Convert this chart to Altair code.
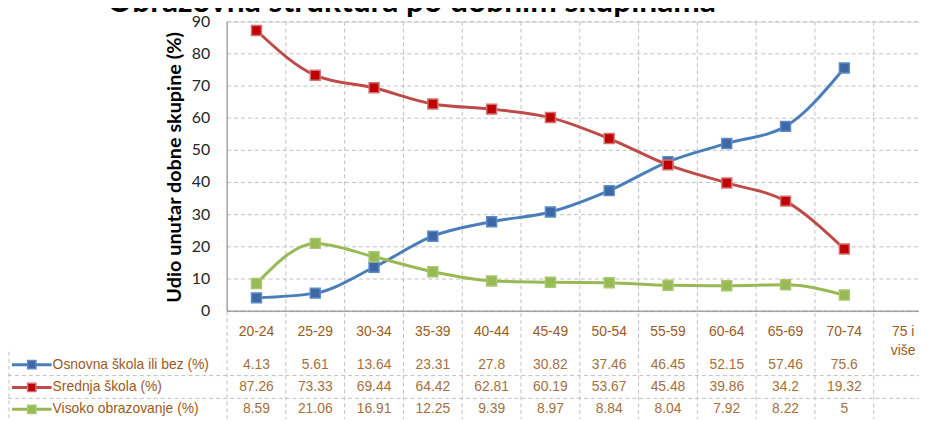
import altair as alt
import pandas as pd

title_text = "Obrazovna struktura po dobnim skupinama"
y_title = "Udio unutar dobne skupine (%)"
categories = ["20-24", "25-29", "30-34", "35-39", "40-44", "45-49", "50-54",
              "55-59", "60-64", "65-69", "70-74", "75 i više"]
series_names = ["Osnovna škola ili bez (%)", "Srednja škola (%)", "Visoko obrazovanje (%)"]
osnovna = [4.13, 5.61, 13.64, 23.31, 27.8, 30.82, 37.46, 46.45, 52.15, 57.46, 75.6, None]
srednja = [87.26, 73.33, 69.44, 64.42, 62.81, 60.19, 53.67, 45.48, 39.86, 34.2, 19.32, None]
visoko = [8.59, 21.06, 16.91, 12.25, 9.39, 8.97, 8.84, 8.04, 7.92, 8.22, 5, None]
y_ticks = [0, 10, 20, 30, 40, 50, 60, 70, 80, 90]

line_colors = ["#4A7EBB", "#BE4B48", "#98B954"]
marker_fill = ["#3C68A6", "#C00000", "#98B954"]
marker_stroke = ["#5B8BC6", "#D27070", "#A9C76E"]

rows = []
for s, vals in zip(series_names, [osnovna, srednja, visoko]):
    for i, (c, v) in enumerate(zip(categories, vals)):
        if v is None:
            continue
        rows.append({"idx": i, "cat": c, "series": s, "value": v, "label": f"{v:g}"})
df = pd.DataFrame(rows)

cat_df = pd.DataFrame({
    "idx": list(range(len(categories))),
    "label": [c if len(c) <= 5 else c.rsplit(" ", 1)[0] + "\n" + c.rsplit(" ", 1)[1]
              for c in categories],
})
bounds_df = pd.DataFrame({"b": [i + 0.5 for i in range(len(categories))]})
ytick_df = pd.DataFrame({"t": [float(t) for t in y_ticks], "tl": [str(t) for t in y_ticks]})
one = pd.DataFrame({"k": [0]})

W, H = 698, 292
xscale = alt.Scale(domain=[-0.5, 11.27], nice=False, zero=False)
yscale = alt.Scale(domain=[0, 90], nice=False, zero=True)
brown = "#9C5A22"
valcol = "#A4703E"
grid = "#BFBFBF"

hgrid = alt.Chart(ytick_df).mark_rule(color=grid, strokeDash=[4, 3], strokeWidth=1).encode(
    y=alt.Y("t:Q", scale=yscale, axis=None), x=alt.value(0), x2=alt.value(W))
ylabels = alt.Chart(ytick_df).mark_text(font="Lato", fontSize=16, color="#262626",
                                        align="right", baseline="middle").encode(
    y=alt.Y("t:Q", scale=yscale, axis=None), x=alt.value(-17), text="tl:N")
ydomain = alt.Chart(one).mark_rule(color="#868686", strokeWidth=1).encode(
    x=alt.value(0), y=alt.value(0), y2=alt.value(H))
vgrid = alt.Chart(bounds_df).mark_rule(color=grid, strokeDash=[4, 3], strokeWidth=1).encode(
    x=alt.X("b:Q", scale=xscale, axis=None), y=alt.value(0), y2=alt.value(401))
left_table_line = alt.Chart(one).mark_rule(color=grid, strokeDash=[4, 3]).encode(
    x=alt.value(0), y=alt.value(H), y2=alt.value(401))
row_lines = [
    alt.Chart(one).mark_rule(color=grid, strokeDash=[4, 3]).encode(
        x=alt.value(-221), x2=alt.value(W), y=alt.value(yy))
    for yy in (357, 380)
]
legend_left = alt.Chart(one).mark_rule(color=grid, strokeDash=[4, 3]).encode(
    x=alt.value(-220), y=alt.value(333), y2=alt.value(401))
xdomain = alt.Chart(one).mark_rule(color="#868686", strokeWidth=1).encode(
    x=alt.value(0), x2=alt.value(W), y=alt.value(H))

lines = alt.Chart(df).mark_line(strokeWidth=3, interpolate="monotone").encode(
    x=alt.X("idx:Q", scale=xscale, axis=None),
    y=alt.Y("value:Q", scale=yscale, axis=None),
    color=alt.Color("series:N", scale=alt.Scale(domain=series_names, range=line_colors),
                    legend=None),
    detail="series:N",
)
points = alt.Chart(df).mark_point(shape="square", filled=True, size=100, strokeWidth=1.5,
                                  opacity=1).encode(
    x=alt.X("idx:Q", scale=xscale, axis=None),
    y=alt.Y("value:Q", scale=yscale, axis=None),
    fill=alt.Fill("series:N", scale=alt.Scale(domain=series_names, range=marker_fill),
                  legend=None),
    stroke=alt.Stroke("series:N", scale=alt.Scale(domain=series_names, range=marker_stroke),
                      legend=None),
)

cat_text = alt.Chart(cat_df).mark_text(font="Liberation Sans", fontSize=14, color=brown,
                                       baseline="middle", lineBreak="\n",
                                       lineHeight=19).encode(
    x=alt.X("idx:Q", scale=xscale, axis=None), y=alt.value(313), text="label:N")

row_y = [346, 369, 391]
layers = [hgrid, vgrid, left_table_line] + row_lines + [legend_left, ydomain, ylabels,
                                                       lines, points, xdomain, cat_text]
for k, s in enumerate(series_names):
    ry = row_y[k]
    layers.append(alt.Chart(df).transform_filter(alt.datum.series == s).mark_text(
        font="Liberation Sans", fontSize=14, color=valcol, baseline="middle").encode(
        x=alt.X("idx:Q", scale=xscale, axis=None), y=alt.value(ry), text="label:N"))
    layers.append(alt.Chart(one).mark_rule(color=line_colors[k], strokeWidth=3).encode(
        x=alt.value(-217), x2=alt.value(-177), y=alt.value(ry)))
    layers.append(alt.Chart(one).mark_point(shape="square", filled=True, size=70,
                                            strokeWidth=1.5, opacity=1,
                                            fill=marker_fill[k],
                                            stroke=marker_stroke[k]).encode(
        x=alt.value(-197), y=alt.value(ry)))
    layers.append(alt.Chart(one).mark_text(font="Liberation Sans", fontSize=14, color=brown,
                                           align="left", baseline="middle").encode(
        x=alt.value(-176), y=alt.value(ry), text=alt.value(s)))

layers.append(alt.Chart(one).mark_text(font="Lato", fontSize=20, fontWeight="bold",
                                       angle=270, color="#000000", baseline="middle",
                                       align="center").encode(
    x=alt.value(-52), y=alt.value(147), text=alt.value(y_title)))
layers.append(alt.Chart(one).mark_text(font="Lato", fontSize=32, fontWeight="bold",
                                       color="#000000", baseline="alphabetic",
                                       align="center").encode(
    x=alt.value(186), y=alt.value(-10), text=alt.value(title_text)))

chart = alt.layer(*layers).resolve_scale(fill="independent", stroke="independent").properties(
    width=W, height=H,
    autosize=alt.AutoSizeParams(type="none"),
    padding={"left": 221, "top": 12, "right": 0, "bottom": 109},
).configure_view(stroke=None).configure(background="white")

chart.save("out.html", embed_options={"renderer": "svg", "actions": False})
